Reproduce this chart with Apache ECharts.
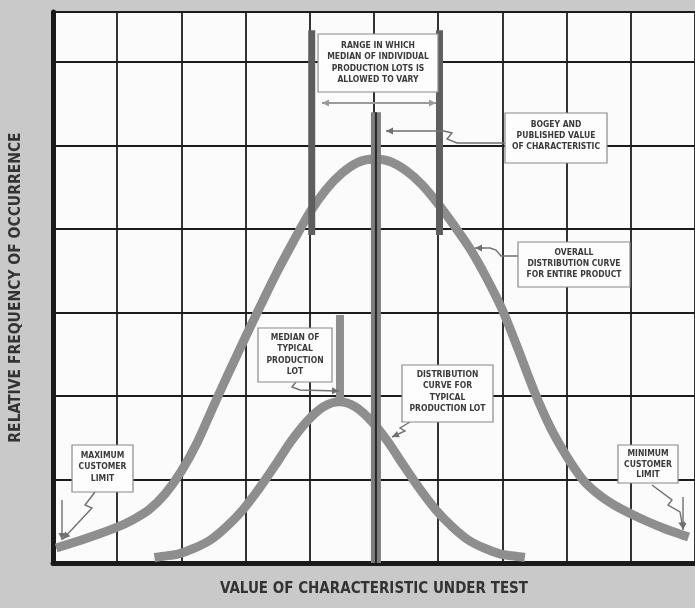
<!DOCTYPE html>
<html><head><meta charset="utf-8">
<script src="https://cdn.jsdelivr.net/npm/echarts@6/dist/echarts.min.js"></script>
<style>html,body{margin:0;padding:0;background:#c9c9c9;}#c{width:695px;height:608px;}</style>
</head><body><div id="c"></div>
<script>
// ---- data (x: value of characteristic, y: relative frequency) ----
const overallX = [0.05,0.5,1.0,1.25,1.5,1.75,2.0,2.25,2.5,2.75,3.0,3.25,3.5,3.75,4.0,4.25,4.5,4.75,5.0,5.25,5.5,5.75,6.0,6.25,6.5,6.75,7.0,7.25,7.5,7.75,8.0,8.25,8.5,8.75,9.0,9.25,9.5,9.75,9.9];
const overallY = [0.18,0.29,0.43,0.52,0.64,0.83,1.10,1.45,1.88,2.30,2.71,3.11,3.50,3.86,4.20,4.47,4.67,4.80,4.84,4.81,4.70,4.53,4.30,4.04,3.76,3.42,3.03,2.55,2.05,1.62,1.28,1.00,0.82,0.69,0.59,0.50,0.42,0.35,0.31];
const lotX = [1.58,1.71,1.96,2.21,2.46,2.71,2.96,3.21,3.46,3.71,3.96,4.21,4.46,4.71,4.96,5.21,5.46,5.71,5.96,6.21,6.46,6.71,6.96,7.21,7.35];
const lotY = [0.065,0.08,0.11,0.18,0.28,0.44,0.64,0.89,1.17,1.46,1.70,1.87,1.93,1.87,1.70,1.46,1.17,0.89,0.64,0.44,0.28,0.18,0.11,0.08,0.065];
const rangeBounds = [4.03, 6.02];
const rangeSpan = [3.93, 6.38];
const bogeyValue = 5.03;
const bogeySpan = [0, 5.40];
const lotMedian = 4.47;
const lotMedianSpan = [1.95, 2.97];
const xTitle = 'VALUE OF CHARACTERISTIC UNDER TEST';
const yTitle = 'RELATIVE FREQUENCY OF OCCURRENCE';
const noteTexts = [
  ['RANGE IN WHICH','MEDIAN OF INDIVIDUAL','PRODUCTION LOTS IS','ALLOWED TO VARY'],
  ['BOGEY AND','PUBLISHED VALUE','OF CHARACTERISTIC'],
  ['OVERALL','DISTRIBUTION CURVE','FOR ENTIRE PRODUCT'],
  ['MEDIAN OF','TYPICAL','PRODUCTION','LOT'],
  ['DISTRIBUTION','CURVE FOR','TYPICAL','PRODUCTION LOT'],
  ['MAXIMUM','CUSTOMER','LIMIT'],
  ['MINIMUM','CUSTOMER','LIMIT']
];

// ---- layout / styles ----
const FONT = '"Liberation Sans Narrow","DejaVu Sans Condensed","Liberation Sans",sans-serif';
const noteBoxes = [
  {x:318,y:34,w:120,h:58,ty:40,lh:11.5},
  {x:505,y:113,w:102,h:50,ty:119,lh:11},
  {x:518,y:242,w:112,h:45,ty:247,lh:11},
  {x:258,y:328,w:74,h:54,ty:332,lh:11.5},
  {x:402,y:365,w:91,h:57,ty:369,lh:11.5},
  {x:72,y:445,w:61,h:47,ty:450,lh:11.5},
  {x:618,y:445,w:60,h:38,ty:449,lh:10.5}
];
const arrows = [
  {pts:[[436,103],[322,103]], both:true, color:'#9a9a9a', w:2},
  {pts:[[505,143],[457,143],[447,139],[452,133],[444,131],[386,131]]},
  {pts:[[518,256],[501,256],[496,250],[490,248],[475,248]]},
  {pts:[[296,382],[292,387],[300,390],[339,391]]},
  {pts:[[410,422],[400,428],[405,431],[392,437]]},
  {pts:[[95,492],[85,505],[92,508],[63,539]]},
  {pts:[[62,500],[62,540]]},
  {pts:[[652,485],[672,500],[668,505],[680,512],[683,529]]},
  {pts:[[683,497],[683,530]]}
];

const zip = (xs, ys) => xs.map((x, i) => [x, ys[i]]);
const chart = echarts.init(document.getElementById('c'), null, {renderer:'canvas'});

function vline(x, span, color, width, z){
  return {type:'line', data:[[x,span[0]],[x,span[1]]], symbol:'none', silent:true, z:z,
    lineStyle:{color:color, width:width, cap:'butt'}};
}

function arrowGraphics(a){
  const color = a.color || '#707070', w = a.w || 1.4;
  const out = [{type:'polyline', shape:{points:a.pts}, style:{stroke:color, lineWidth:w, fill:null}, z:50}];
  const head = (tip, from) => {
    const dx = tip[0]-from[0], dy = tip[1]-from[1], L = Math.hypot(dx,dy);
    const ux = dx/L, uy = dy/L, len = 7, hw = 3.5;
    const bx = tip[0]-ux*len, by = tip[1]-uy*len;
    return {type:'polygon', shape:{points:[tip,[bx-uy*hw,by+ux*hw],[bx+uy*hw,by-ux*hw]]}, style:{fill:color}, z:51};
  };
  const n = a.pts.length;
  out.push(head(a.pts[n-1], a.pts[n-2]));
  if (a.both) out.push(head(a.pts[0], a.pts[1]));
  return out;
}

const graphics = [];
noteBoxes.forEach((b,i) => {
  graphics.push({type:'rect', shape:{x:b.x,y:b.y,width:b.w,height:b.h}, style:{fill:'#fdfdfd', stroke:'#8a8a8a', lineWidth:1.2}, z:60});
  graphics.push({type:'text', x:b.x+b.w/2, y:b.ty, z:61, style:{text:noteTexts[i].join('\n'), align:'center', verticalAlign:'top',
    font:'bold 8.5px '+FONT, lineHeight:b.lh, fill:'#3a3a3a'}});
});
arrows.forEach(a => arrowGraphics(a).forEach(g => graphics.push(g)));

chart.setOption({
  animation:false,
  backgroundColor:'#c9c9c9',
  grid:{left:51, top:12, width:651, height:551, show:true, backgroundColor:'#fbfbfb', borderWidth:0},
  xAxis:{type:'value', min:0, max:10, interval:1,
    name:xTitle, nameLocation:'middle', nameGap:19,
    nameTextStyle:{fontFamily:FONT, fontWeight:'bold', fontSize:15, color:'#333'},
    axisLine:{show:true, lineStyle:{color:'#1a1a1a', width:5}},
    axisTick:{show:false}, axisLabel:{show:false},
    splitLine:{show:true, lineStyle:{color:'#1c1c1c', width:1.8}}},
  yAxis:{type:'value', min:0, max:6.6, interval:1,
    name:yTitle, nameLocation:'middle', nameGap:29, nameRotate:90,
    nameTextStyle:{fontFamily:FONT, fontWeight:'bold', fontSize:15.5, color:'#333'},
    axisLine:{show:true, onZero:false, lineStyle:{color:'#1a1a1a', width:5}},
    axisTick:{show:false}, axisLabel:{show:false},
    splitLine:{show:true, lineStyle:{color:'#1c1c1c', width:1.8}}},
  series:[
    {type:'line', data:zip(overallX, overallY), smooth:0.3, symbol:'none', z:3, lineStyle:{color:'#8e8e8e', width:9}},
    {type:'line', data:zip(lotX, lotY), smooth:0.3, symbol:'none', z:3, lineStyle:{color:'#8e8e8e', width:9}},
    vline(rangeBounds[0], rangeSpan, '#5e5e5e', 7, 4),
    vline(rangeBounds[1], rangeSpan, '#5e5e5e', 7, 4),
    vline(lotMedian, lotMedianSpan, '#8e8e8e', 8, 4),
    vline(bogeyValue, bogeySpan, '#7e7e7e', 10, 4),
    vline(bogeyValue, bogeySpan, '#262626', 2, 5)
  ],
  graphic:graphics
});
</script></body></html>
